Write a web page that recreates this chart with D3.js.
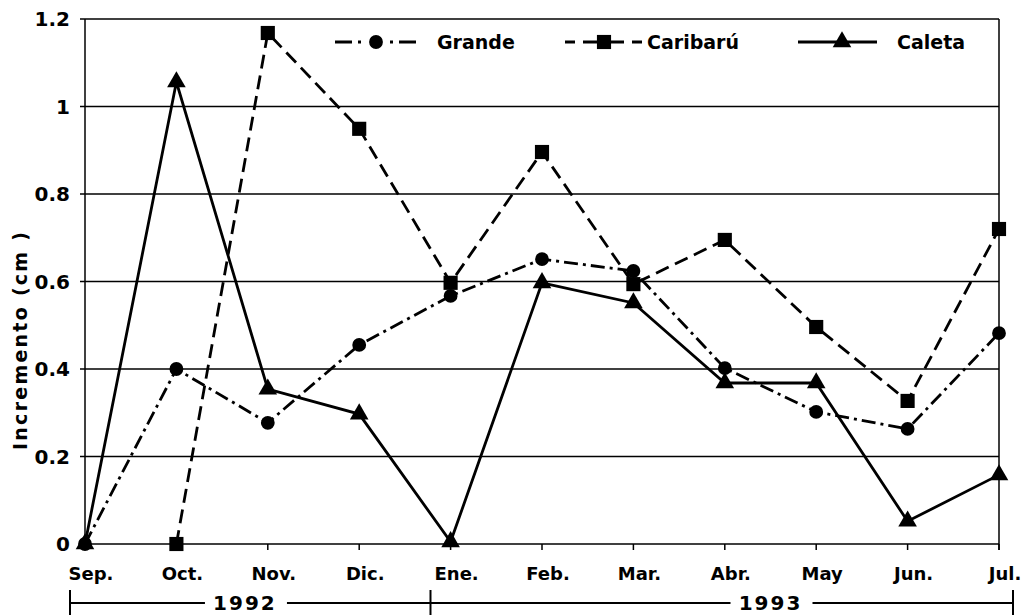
<!DOCTYPE html>
<html><head><meta charset="utf-8">
<script src="https://cdn.jsdelivr.net/npm/d3@7"></script>
<style>body{margin:0;background:#fff}svg{display:block}text{font-family:"DejaVu Sans",sans-serif;font-weight:bold;fill:#000}</style>
</head><body>
<svg id="c" width="1026" height="615"></svg>
<script>
const months = ["Sep.","Oct.","Nov.","Dic.","Ene.","Feb.","Mar.","Abr.","May","Jun.","Jul."];
const grande  = [0, 0.40, 0.277, 0.455, 0.567, 0.651, 0.624, 0.402, 0.302, 0.263, 0.482];
const caribaru = [null, 0, 1.168, 0.949, 0.597, 0.896, 0.594, 0.695, 0.496, 0.327, 0.72];
const caleta  = [0, 1.056, 0.354, 0.297, 0.005, 0.597, 0.551, 0.368, 0.368, 0.052, 0.158];
const yTicks = [0, 0.2, 0.4, 0.6, 0.8, 1, 1.2];
const yTickLabels = ["0", "0.2", "0.4", "0.6", "0.8", "1", "1.2"];
const years = ["1992", "1993"];

const svg = d3.select("#c");
const x = d3.scalePoint().domain(months).range([85, 999]);
const y = d3.scaleLinear().domain([0, 1.2]).range([544, 19]);
const step = x.step();

// gridlines
svg.append("g").selectAll("line").data(yTicks).join("line")
  .attr("x1", 80).attr("x2", x.range()[1])
  .attr("y1", d => y(d)).attr("y2", d => y(d))
  .attr("stroke", "#000").attr("stroke-width", 1.5);
// left axis and right border
svg.append("line").attr("x1", x.range()[0]).attr("x2", x.range()[0]).attr("y1", y(1.2)).attr("y2", y(0))
  .attr("stroke", "#000").attr("stroke-width", 1.5);
svg.append("line").attr("x1", x.range()[1]).attr("x2", x.range()[1]).attr("y1", y(1.2)).attr("y2", y(0) + 6)
  .attr("stroke", "#000").attr("stroke-width", 1.5);
// x ticks
svg.append("g").selectAll("line").data(months).join("line")
  .attr("x1", d => x(d)).attr("x2", d => x(d)).attr("y1", y(0)).attr("y2", y(0) + 6)
  .attr("stroke", "#000").attr("stroke-width", 1.5);

// y tick labels
svg.append("g").selectAll("text").data(yTicks).join("text")
  .attr("x", 70).attr("y", d => y(d)).attr("dy", "0.36em")
  .attr("text-anchor", "end").attr("font-size", 20)
  .text((d, i) => yTickLabels[i]);

// x labels
svg.append("g").selectAll("text").data(months).join("text")
  .attr("x", d => x(d) + 6).attr("y", 580)
  .attr("text-anchor", "middle").attr("font-size", 18)
  .text(d => d);

// y title
svg.append("text").attr("transform", "translate(27,341) rotate(-90)")
  .attr("text-anchor", "middle").attr("font-size", 19)
  .attr("textLength", 218).attr("lengthAdjust", "spacing")
  .text("Incremento (cm )");

// year brackets
const bY = 603;
const bl = x(months[0]) - 15, bm = x("Dic.") + 0.78 * step, br = x(months[10]) + 14;
const yr = svg.append("g").attr("stroke", "#000").attr("stroke-width", 2);
const t1 = x("Oct.") + 0.75 * step, t2 = (x("Abr.") + x("May")) / 2;
yr.append("line").attr("x1", bl).attr("x2", t1 - 40).attr("y1", bY).attr("y2", bY);
yr.append("line").attr("x1", t1 + 42).attr("x2", bm).attr("y1", bY).attr("y2", bY);
yr.append("line").attr("x1", bm).attr("x2", t2 - 40).attr("y1", bY).attr("y2", bY);
yr.append("line").attr("x1", t2 + 42).attr("x2", br).attr("y1", bY).attr("y2", bY);
[bl, bm, br].forEach(v => yr.append("line").attr("x1", v).attr("x2", v).attr("y1", bY - 13).attr("y2", bY + 13));
svg.append("text").attr("x", t1).attr("y", bY).attr("dy", "0.36em").attr("text-anchor", "middle")
  .attr("font-size", 20).attr("letter-spacing", 2).text(years[0]);
svg.append("text").attr("x", t2).attr("y", bY).attr("dy", "0.36em").attr("text-anchor", "middle")
  .attr("font-size", 20).attr("letter-spacing", 2).text(years[1]);

// series
const series = [
  {name: "Grande", vals: grande, dash: "14,5,3,5", sym: d3.symbolCircle, size: 150},
  {name: "Caribarú", vals: caribaru, dash: "14,7", sym: d3.symbolSquare, size: 200},
  {name: "Caleta", vals: caleta, dash: null, sym: d3.symbolTriangle, size: 150}
];
const line = d3.line().defined(d => d.v !== null).x(d => x(d.m)).y(d => y(d.v));
series.forEach(s => {
  const pts = months.map((m, i) => ({m, v: s.vals[i]}));
  svg.append("path").datum(pts).attr("d", line).attr("fill", "none")
    .attr("stroke", "#000").attr("stroke-width", 2.8)
    .attr("stroke-dasharray", s.dash);
  svg.append("g").selectAll("path").data(pts.filter(d => d.v !== null)).join("path")
    .attr("transform", d => `translate(${x(d.m)},${y(d.v)})`)
    .attr("d", d3.symbol(s.sym, s.size)).attr("fill", "#000");
});

// legend
const legend = [
  {x1: 335, x2: 416, sx: 376, tx: 437, dash: "17,6,3,29,3,6,17"},
  {x1: 565, x2: 642, sx: 604, tx: 647, dash: "10,8,41,8,10"},
  {x1: 798, x2: 877, sx: 842, tx: 897, dash: null}
];
const ly = 42;
series.forEach((s, i) => {
  const L = legend[i];
  svg.append("line").attr("x1", L.x1).attr("x2", L.x2).attr("y1", ly).attr("y2", ly)
    .attr("stroke", "#000").attr("stroke-width", 2.8).attr("stroke-dasharray", L.dash);
  svg.append("path").attr("transform", `translate(${L.sx},${ly})`)
    .attr("d", d3.symbol(s.sym, s.size)).attr("fill", "#000");
  svg.append("text").attr("x", L.tx).attr("y", ly).attr("dy", "0.36em")
    .attr("font-size", 19).text(s.name);
});
</script>
</body></html>
